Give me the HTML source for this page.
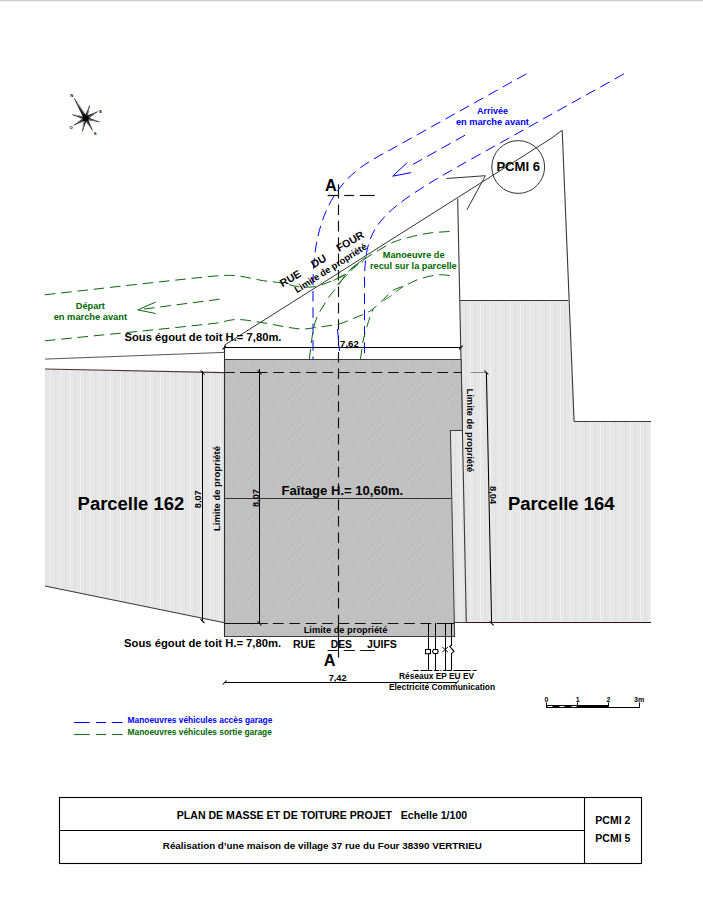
<!DOCTYPE html>
<html><head><meta charset="utf-8">
<style>
html,body{margin:0;padding:0;background:#fff;width:703px;height:924px;overflow:hidden}
svg{display:block;position:absolute;left:0;top:0}
text{font-family:"Liberation Sans",sans-serif;font-weight:bold}
</style></head><body>
<svg width="703" height="924" viewBox="0 0 703 924">
<defs>
<linearGradient id="topsh" x1="0" y1="0" x2="0" y2="1">
<stop offset="0" stop-color="#c4c4c4"/><stop offset="1" stop-color="#ffffff"/>
</linearGradient>
<pattern id="stripes" patternUnits="userSpaceOnUse" x="0" y="0" width="10" height="10">
<rect width="10" height="10" fill="#e6e6e6"/>
<rect x="0" y="0" width="1" height="10" fill="#efefef"/>
<rect x="5" y="0" width="1" height="10" fill="#e0e0e0"/>
</pattern>
<pattern id="dots" patternUnits="userSpaceOnUse" x="0" y="0" width="10" height="10">
<rect width="10" height="10" fill="#c0c0c0"/>
<rect x="3" y="4" width="1" height="1" fill="#b8b8b8"/>
<rect x="8" y="9" width="1" height="1" fill="#b8b8b8"/>
<rect x="8" y="4" width="1" height="1" fill="#cacaca"/>
<rect x="3" y="9" width="1" height="1" fill="#cacaca"/>
</pattern>
</defs>
<rect x="0" y="0" width="703" height="1" fill="#cdcdcd"/><rect x="0" y="1" width="703" height="1" fill="#f3f3f3"/>

<!-- ===== PARCELS ===== -->
<polygon points="45,369 224.5,372.5 224.5,622.7 45,586" fill="url(#stripes)"/>
<polygon points="460,300.5 568.3,300.5 574.1,421.5 651,421.5 651,622.5 453.8,622.5 450.4,430.5 462.5,430.5" fill="url(#stripes)"/>
<g fill="none" stroke-width="1.1">
<line x1="45" y1="369" x2="224.5" y2="372.6" stroke="#553030"/>
<line x1="45" y1="586" x2="224.5" y2="622.7" stroke="#3a3a3a"/>
<line x1="460" y1="300.5" x2="568.3" y2="300.5" stroke="#3a3a3a"/>
<line x1="574.1" y1="421.5" x2="651" y2="421.5" stroke="#3a3a3a"/>
<line x1="466.3" y1="622.5" x2="651" y2="622.5" stroke="#3a1010"/>
<line x1="562.2" y1="130.2" x2="574.1" y2="421.5" stroke="#3a3a3a"/>
<line x1="457.7" y1="198.7" x2="466.3" y2="622.5" stroke="#3a3a3a"/>
</g>

<!-- ===== HOUSE ===== -->
<polygon points="224.5,359.5 461.15,359.5 462.5,430.5 450.4,430.5 454.6,636.5 224.5,636.5" fill="url(#dots)" stroke="#3c3c3c" stroke-width="1.05"/>
<line x1="453.8" y1="622.5" x2="466.3" y2="622.5" stroke="#3a3a3a" stroke-width="1.05"/>
<line x1="224.5" y1="345.7" x2="224.5" y2="636.5" stroke="#2a2a2a" stroke-width="1.05"/>
<line x1="224.5" y1="498.5" x2="451.5" y2="498.5" stroke="#333" stroke-width="1"/>

<!-- property dashed lines -->
<g stroke="#111" stroke-width="1.05" fill="none">
<line x1="224.5" y1="372.5" x2="234.8" y2="372.5"/>
<line x1="240" y1="372.5" x2="267.5" y2="372.5"/>
<line x1="273.2" y1="372.5" x2="461.5" y2="372.5" stroke-dasharray="10.8,5.6"/>
<line x1="224.5" y1="623.5" x2="267.8" y2="623.5"/>
<line x1="272.9" y1="623.5" x2="454.2" y2="623.5" stroke-dasharray="10.8,5.6"/>
<line x1="436.9" y1="623.5" x2="454.2" y2="623.5"/>
</g>
<line x1="470.6" y1="372.5" x2="486.4" y2="372.5" stroke="#888" stroke-width="1"/>

<!-- street lines -->
<line x1="45" y1="359.1" x2="224.5" y2="352.4" stroke="#555" stroke-width="1"/>
<polyline points="224.4,345.2 551,138.5 562.2,130.2" fill="none" stroke="#333" stroke-width="1"/>

<!-- ===== DIMENSIONS ===== -->
<g stroke="#000" stroke-width="1.05" fill="none">
<line x1="224.5" y1="347.5" x2="461.4" y2="347.5"/>
<line x1="202.5" y1="371" x2="202.5" y2="621.5"/>
<line x1="259.5" y1="369" x2="259.5" y2="623.5"/>
<line x1="486.4" y1="372.5" x2="491.6" y2="623.4"/>
<line x1="224.7" y1="682.5" x2="456.8" y2="682.5"/>
<!-- ticks -->
<line x1="222.4" y1="349.4" x2="226.2" y2="345.6"/>
<line x1="459" y1="349.3" x2="462.8" y2="345.6"/>
<line x1="200.5" y1="370.5" x2="204.5" y2="374.5"/>
<line x1="200.5" y1="619.2" x2="204.5" y2="623.2"/>
<line x1="257.5" y1="370.5" x2="261.5" y2="374.5"/>
<line x1="257.5" y1="621.5" x2="261.5" y2="625.5"/>
<line x1="484.4" y1="370.5" x2="488.4" y2="374.5"/>
<line x1="489.6" y1="621.4" x2="493.6" y2="625.4"/>
<line x1="222.7" y1="684.5" x2="226.7" y2="680.5"/>
<line x1="454.8" y1="684.5" x2="458.8" y2="680.5"/>
</g>

<!-- ===== SECTION A-A ===== -->
<g stroke="#111" stroke-width="1.15" fill="none">
<line x1="338.5" y1="184.3" x2="338.5" y2="198.4"/>
<line x1="338.5" y1="204.4" x2="338.5" y2="610" stroke-dasharray="10.6,5.8"/>
<line x1="338.5" y1="614.8" x2="338.5" y2="657.6"/>
<line x1="327.8" y1="195.5" x2="335.6" y2="195.5"/>
<line x1="327.8" y1="195.5" x2="338.5" y2="195.5"/>
<line x1="344.2" y1="195.5" x2="354.1" y2="195.5"/>
<line x1="359.8" y1="195.5" x2="374.7" y2="195.5"/>
</g>
<text x="325" y="190.9" font-size="16.3">A</text>
<text x="323.8" y="665.9" font-size="16.3">A</text>

<!-- ===== PCMI 6 ===== -->
<circle cx="518.2" cy="167" r="26.4" fill="none" stroke="#333" stroke-width="1"/>
<text x="496.4" y="170.8" font-size="13.08">PCMI 6</text>
<polyline points="446.4,178.5 485.4,175.7 466.9,209.8" fill="none" stroke="#333" stroke-width="1"/>

<!-- ===== BLUE ===== -->
<g fill="none" stroke="#0000ff" stroke-width="1" stroke-dasharray="10.6,5.8">
<path d="M526.3,73.9 L390,150 C363.8,164.6 313,185 313,285 L313,359.4"/>
<path d="M623.9,73.9 L475,157 C374.6,213 364.5,225 364.5,285 L364.5,359.4"/>
<path d="M465,135.2 L407.5,167.5"/>
</g>
<polyline points="407.4,162.4 392.7,176.2 411.2,172.6" fill="none" stroke="#0000ff" stroke-width="1"/>
<path d="M337.3,329 Q338.5,336 338.6,342 M338.7,345 L339.6,351" fill="none" stroke="#0000ff" stroke-width="1"/>
<text x="477" y="113.8" font-size="9" fill="#0000ff">Arrivée</text>
<text x="455.9" y="124.7" font-size="9.25" fill="#0000ff">en marche avant</text>

<!-- ===== GREEN ===== -->
<g fill="none" stroke="#0a660a" stroke-width="1" stroke-dasharray="10.6,5.8">
<path d="M44.8,294.8 C101.5,288.5 158.2,281.7 215.0,276.0 C222.1,275.3 229.3,275.0 236.3,275.7 C245.4,276.6 254.3,279.3 263.4,280.7 C269.6,281.7 275.9,281.9 282.0,283.0 C287.2,283.9 292.3,285.9 297.5,286.6 C302.3,287.2 307.2,287.3 312.0,287.0 C314.7,286.8 317.4,286.1 320.0,285.3 C324.2,284.0 328.4,282.3 332.5,280.7 C336.0,279.3 339.5,278.0 342.8,276.2 C345.2,274.9 347.5,273.3 349.6,271.6 C352.8,269.1 355.6,266.2 358.7,263.7 C361.7,261.3 364.7,259.0 367.8,256.8 C370.1,255.2 372.5,253.7 375.0,252.3 C381.2,248.8 387.3,244.8 393.9,242.0 C399.9,239.5 406.4,238.0 412.7,236.4 C418.4,235.0 424.2,233.8 430.0,233.0 C436.9,232.1 444.0,231.9 451.0,231.4"/>
<path d="M44.8,340.8 C101.5,335.0 158.3,329.6 215.0,323.3 C222.2,322.5 229.2,319.6 236.3,319.5 C244.8,319.4 253.5,321.3 262.0,322.6 C274.8,324.5 287.5,327.8 300.3,329.0 C305.2,329.5 310.1,328.3 315.0,327.6 C323.4,326.5 331.8,325.6 340.0,323.7 C344.0,322.8 347.6,320.7 351.4,319.2 C355.9,317.4 360.6,315.7 365.0,313.6 C367.8,312.3 370.6,310.9 373.0,309.0 C376.6,306.2 379.8,302.7 383.2,299.6 C386.6,296.5 389.7,292.7 393.5,290.2 C396.5,288.2 400.3,287.6 403.7,286.2 C409.2,283.8 414.3,280.6 420.0,278.8 C426.3,276.8 433.1,275.3 439.7,274.8 C444.2,274.5 448.7,275.7 453.2,276.2"/>
<path d="M309.3,359.4 C311.2,347.2 311.5,334.4 315.0,322.7 C317.4,314.6 322.4,307.2 326.9,300.0 C330.1,294.8 334.5,290.3 338.2,285.3 C341.7,280.6 344.7,275.4 348.5,271.1 C350.4,269.0 352.9,267.6 355.3,266.0 C357.9,264.3 360.6,262.9 363.3,261.4"/>
<path d="M360.5,359.4 C361.4,352.9 362.0,346.4 363.3,340.0 C364.6,333.7 366.6,327.6 368.5,321.5 C369.8,317.3 371.5,313.2 373.0,309.0"/>
<path d="M219.6,299.2 L139,309.7"/>
</g>
<path d="M403.4,286.4 L395.5,291.8 M391.5,295.5 L383.5,300.7 M347.6,274.2 L337.2,284.6 M344.5,274.5 L333.5,280.5 M351,268.6 L366.5,256.8" fill="none" stroke="#0a660a" stroke-width="0.9"/>
<polyline points="155.6,302.1 137.8,309.9 155.6,313.5" fill="none" stroke="#0a660a" stroke-width="1"/>
<g fill="#006800">
<text x="75.8" y="308.9" font-size="9.2">Départ</text>
<text x="53.7" y="319.5" font-size="9.3">en marche avant</text>
<text x="382.8" y="257.7" font-size="9.2">Manoeuvre de</text>
<text x="370" y="268.6" font-size="9.24">recul sur la parcelle</text>
</g>

<!-- ===== LABELS ===== -->
<text x="124.5" y="341.1" font-size="11.24">Sous égout de toit H.= 7,80m.</text>
<text x="124.1" y="647.2" font-size="11.24">Sous égout de toit H.= 7,80m.</text>
<text x="340.1" y="347" font-size="9.6">7,62</text>
<text x="328.7" y="681" font-size="9.2">7,42</text>
<text x="77.6" y="509.8" font-size="18.45">Parcelle 162</text>
<text x="507.9" y="509.8" font-size="18.45">Parcelle 164</text>
<text x="281.6" y="495.4" font-size="13.07">Faîtage H.= 10,60m.</text>
<text x="303.7" y="633" font-size="9.3">Limite de propriété</text>
<g>
<text x="293" y="648" font-size="10.5">RUE</text>
<text x="330.8" y="648" font-size="10.3">DES</text>
<text x="367.1" y="648" font-size="10.5">JUIFS</text>
</g>
<g stroke="#111" stroke-width="1.05"><line x1="327.6" y1="650.5" x2="337.8" y2="650.5"/><line x1="343.6" y1="650.5" x2="354.9" y2="650.5"/><line x1="360.2" y1="650.5" x2="375" y2="650.5"/></g>

<text transform="translate(201.4,508.2) rotate(-90)" font-size="9.2">8,07</text>
<text transform="translate(259.2,507) rotate(-90)" font-size="9.2">8,07</text>
<text transform="translate(219.8,531) rotate(-90)" font-size="9.45">Limite de propriété</text>
<text transform="translate(466.5,388.6) rotate(90)" font-size="9.3">Limite de propriété</text>
<text transform="translate(489.9,486) rotate(90)" font-size="9.3">8,04</text>
<text transform="translate(282.6,287.2) rotate(-30.5)" font-size="10.6">RUE</text>
<text transform="translate(313.8,268.2) rotate(-30.5)" font-size="10.8">DU</text>
<text transform="translate(339,252) rotate(-30.5)" font-size="10.6">FOUR</text>
<text transform="translate(297,293.2) rotate(-32.5)" font-size="9.3">Limite de propriété</text>

<!-- ===== NETWORKS ===== -->
<g stroke="#000" stroke-width="1.05" fill="none">
<line x1="428.5" y1="623" x2="428.5" y2="670.5"/>
<line x1="435.5" y1="623" x2="435.5" y2="670.5"/>
<line x1="445.5" y1="623" x2="445.5" y2="670.5"/>
<path d="M451.5,623 L451.5,645.3 L449.7,646.3 L454,651.3 L451.5,653.5 L451.5,670.5"/>
<rect x="425.5" y="649.5" width="5" height="4.2" fill="#fff"/>
<path d="M433.5,649.5 L437.5,649.5 L438.2,651.5 L437.5,653.5 L433.5,653.5 L432.5,651.5 Z" fill="#fff"/>
<path d="M442.3,647 L448,652.2 M448,647 L442.3,652.2" stroke-width="0.9"/>
<path d="M413.2,670.5 H418.7 M420.4,670.5 H432.3 M434,670.5 H439.1 M440.3,670.5 H441.4 M443.1,670.5 H451.7 M453.4,670.5 H471 M472.7,670.5 H476.7"/>
</g>
<text x="399.1" y="678.8" font-size="8.36">Réseaux EP EU EV</text>
<text x="388.9" y="690" font-size="8.43">Electricité Communication</text>

<!-- ===== COMPASS ===== -->
<g fill="#000" stroke="#000" stroke-width="0.3"><polygon points="86.40,119.41 86.15,115.78 74.00,98.00 83.38,117.39"/><polygon points="85.46,118.98 87.26,117.54 89.70,105.20 84.78,116.78"/><polygon points="84.97,118.61 87.41,118.97 97.90,111.40 85.95,116.35"/><polygon points="84.87,117.98 86.48,119.75 99.60,121.90 87.15,117.24"/><polygon points="85.29,117.46 84.94,119.92 92.60,130.60 87.56,118.46"/><polygon points="85.90,117.40 84.17,118.96 82.40,131.60 86.70,119.58"/><polygon points="86.42,117.77 83.97,117.49 73.70,125.40 85.51,120.06"/><polygon points="86.51,118.41 84.95,116.66 72.20,114.70 84.29,119.18"/></g>
<g stroke="#fff" stroke-width="0.5" opacity="0.85"><line x1="83.78" y1="113.92" x2="77.04" y2="102.99"/><line x1="86.87" y1="115.71" x2="88.80" y2="108.48"/><line x1="88.36" y1="117.23" x2="94.91" y2="113.20"/><line x1="88.38" y1="119.32" x2="96.10" y2="121.08"/><line x1="86.69" y1="120.90" x2="90.77" y2="127.56"/><line x1="84.66" y1="120.79" x2="83.12" y2="128.23"/><line x1="83.07" y1="119.25" x2="76.64" y2="123.50"/><line x1="83.10" y1="117.12" x2="75.60" y2="115.47"/></g>
<g font-size="4.2" fill="#000" text-anchor="middle"><text x="71.7" y="97">N</text><text x="100.6" y="112.5">E</text><text x="71.2" y="129">O</text><text x="95.1" y="135.4">S</text></g>

<!-- ===== SCALE BAR ===== -->
<g stroke="#000" stroke-width="1">
<line x1="546.5" y1="702.5" x2="546.5" y2="708"/>
<line x1="577.5" y1="702.5" x2="577.5" y2="708"/>
<line x1="608.5" y1="702.5" x2="608.5" y2="708"/>
<line x1="639.5" y1="702.5" x2="639.5" y2="708"/>
<line x1="608.5" y1="707.5" x2="639.5" y2="707.5"/>
</g>
<rect x="546" y="705" width="63" height="3" fill="#000"/>
<g stroke="#fff" stroke-width="1"><line x1="547.5" y1="706.5" x2="552.5" y2="706.5"/><line x1="559.5" y1="706.5" x2="564.5" y2="706.5"/><line x1="571.5" y1="706.5" x2="576.5" y2="706.5"/></g>
<g font-size="7"><text x="544.5" y="702">0</text><text x="575.8" y="702">1</text><text x="606.6" y="702">2</text><text x="634" y="702">3m</text></g>

<!-- ===== LEGEND ===== -->
<g stroke-width="1.1">
<g stroke="#0000ff"><line x1="74.1" y1="722.5" x2="89.7" y2="722.5"/><line x1="96" y1="722.5" x2="106" y2="722.5"/><line x1="112" y1="722.5" x2="122.6" y2="722.5"/></g>
<g stroke="#1c6c1c"><line x1="74.1" y1="734.5" x2="89.7" y2="734.5"/><line x1="96" y1="734.5" x2="106" y2="734.5"/><line x1="112" y1="734.5" x2="122.6" y2="734.5"/></g>
</g>
<text x="127.6" y="722.5" font-size="8.39" fill="#0000ff">Manoeuvres véhicules accès garage</text>
<text x="127.6" y="734.6" font-size="8.39" fill="#006800">Manoeuvres véhicules sortie garage</text>

<!-- ===== TITLE BLOCK ===== -->
<g stroke="#000" stroke-width="1.1" fill="none">
<rect x="59.5" y="797.5" width="582" height="66"/>
<line x1="59.5" y1="830.5" x2="584.5" y2="830.5"/>
<line x1="584.5" y1="797.5" x2="584.5" y2="863.5"/>
</g>
<text x="176.8" y="819.2" font-size="10.57" xml:space="preserve">PLAN DE MASSE ET DE TOITURE PROJET   Echelle 1/100</text>
<text x="162.8" y="849" font-size="9.82">Réalisation d’une maison de village 37 rue du Four 38390 VERTRIEU</text>
<text x="595.3" y="823.9" font-size="10.5">PCMI 2</text>
<text x="595.3" y="841.8" font-size="10.5">PCMI 5</text>
</svg>
</body></html>
